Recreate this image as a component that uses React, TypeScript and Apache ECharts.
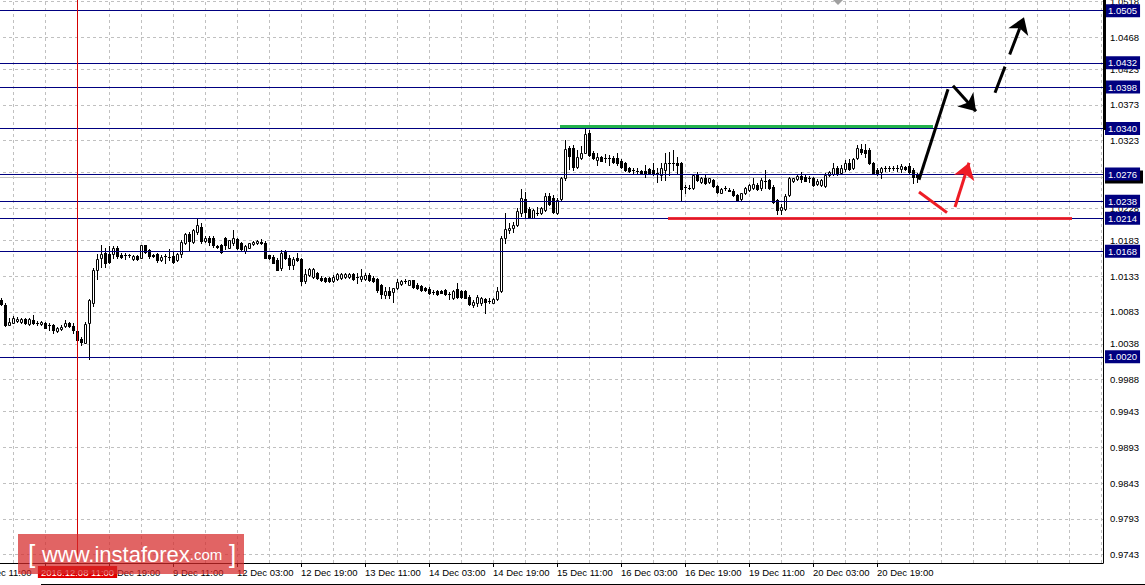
import React, { useEffect, useRef } from "react";
import * as echarts from "echarts";

// ---------- time axis ----------
const START_UTC = Date.UTC(2016, 11, 7, 11, 0); // first slot: 7 Dec 11:00 (H1 bars)
const SLOT_COUNT = 281; // hourly slots visible on the chart (incl. empty future area)
const FIRST_BAR = 5; // first candle slot (7 Dec 16:00)
const MONTHS = ["Jan", "Feb", "Mar", "Apr", "May", "Jun", "Jul", "Aug", "Sep", "Oct", "Nov", "Dec"];

// ---------- OHLC (H1) ----------
const openP = [
  1.0099, 1.0093, 1.0065, 1.0068, 1.0070, 1.0069, 1.0073, 1.0066, 1.0072, 1.0068,
  1.0066, 1.0067, 1.0064, 1.0065, 1.0056, 1.0059, 1.0063, 1.0067, 1.0063, 1.0056,
  1.0045, 1.0040, 1.0067, 1.0096, 1.0142, 1.0159, 1.0165, 1.0164, 1.0164, 1.0172,
  1.0163, 1.0162, 1.0162, 1.0157, 1.0161, 1.0159, 1.0176, 1.0169, 1.0163, 1.0164,
  1.0156, 1.0161, 1.0160, 1.0161, 1.0155, 1.0164, 1.0180, 1.0192, 1.0181, 1.0195,
  1.0202, 1.0182, 1.0187, 1.0187, 1.0175, 1.0176, 1.0187, 1.0173, 1.0179, 1.0185,
  1.0179, 1.0168, 1.0173, 1.0178, 1.0179, 1.0181, 1.0180, 1.0162, 1.0160, 1.0156,
  1.0144, 1.0167, 1.0159, 1.0149, 1.0159, 1.0157, 1.0126, 1.0134, 1.0132, 1.0137,
  1.0131, 1.0131, 1.0131, 1.0126, 1.0129, 1.0130, 1.0132, 1.0132, 1.0136, 1.0132,
  1.0129, 1.0129, 1.0135, 1.0131, 1.0129, 1.0121, 1.0107, 1.0112, 1.0111, 1.0116,
  1.0122, 1.0126, 1.0121, 1.0127, 1.0121, 1.0119, 1.0117, 1.0115, 1.0111, 1.0112,
  1.0112, 1.0114, 1.0108, 1.0102, 1.0115, 1.0112, 1.0112, 1.0104, 1.0093, 1.0095,
  1.0095, 1.0101, 1.0098, 1.0096, 1.0101, 1.0112, 1.0186, 1.0198, 1.0200, 1.0205,
  1.0222, 1.0241, 1.0227, 1.0215, 1.0222, 1.0221, 1.0226, 1.0245, 1.0243, 1.0221,
  1.0241, 1.0270, 1.0313, 1.0313, 1.0286, 1.0298, 1.0306, 1.0334, 1.0306, 1.0296,
  1.0300, 1.0299, 1.0298, 1.0299, 1.0298, 1.0295, 1.0291, 1.0284, 1.0282, 1.0281,
  1.0281, 1.0280, 1.0283, 1.0282, 1.0277, 1.0275, 1.0282, 1.0292, 1.0292, 1.0292,
  1.0291, 1.0258, 1.0257, 1.0256, 1.0276, 1.0265, 1.0270, 1.0265, 1.0268, 1.0259,
  1.0250, 1.0256, 1.0254, 1.0253, 1.0247, 1.0241, 1.0249, 1.0254, 1.0256, 1.0261,
  1.0256, 1.0267, 1.0268, 1.0258, 1.0240, 1.0226, 1.0227, 1.0247, 1.0266, 1.0269,
  1.0274, 1.0272, 1.0270, 1.0270, 1.0262, 1.0261, 1.0260, 1.0275, 1.0276, 1.0284,
  1.0277, 1.0283, 1.0291, 1.0284, 1.0298, 1.0311, 1.0310, 1.0310, 1.0291, 1.0282,
  1.0279, 1.0284, 1.0284, 1.0285, 1.0284, 1.0283, 1.0286, 1.0287, 1.0282, 1.0275,
];
const closeP = [
  1.0094, 1.0065, 1.0069, 1.0074, 1.0073, 1.0073, 1.0068, 1.0073, 1.0067, 1.0068,
  1.0069, 1.0061, 1.0064, 1.0058, 1.0060, 1.0062, 1.0068, 1.0063, 1.0057, 1.0043,
  1.0041, 1.0066, 1.0100, 1.0142, 1.0157, 1.0164, 1.0151, 1.0153, 1.0172, 1.0161,
  1.0160, 1.0162, 1.0162, 1.0161, 1.0157, 1.0176, 1.0167, 1.0161, 1.0161, 1.0156,
  1.0160, 1.0161, 1.0160, 1.0153, 1.0164, 1.0181, 1.0192, 1.0182, 1.0198, 1.0204,
  1.0182, 1.0187, 1.0181, 1.0176, 1.0174, 1.0167, 1.0177, 1.0183, 1.0187, 1.0172,
  1.0171, 1.0175, 1.0179, 1.0181, 1.0182, 1.0179, 1.0159, 1.0158, 1.0152, 1.0142,
  1.0166, 1.0159, 1.0149, 1.0157, 1.0155, 1.0126, 1.0136, 1.0143, 1.0143, 1.0131,
  1.0128, 1.0126, 1.0126, 1.0132, 1.0136, 1.0136, 1.0136, 1.0136, 1.0129, 1.0132,
  1.0133, 1.0135, 1.0128, 1.0126, 1.0113, 1.0108, 1.0112, 1.0107, 1.0116, 1.0125,
  1.0126, 1.0126, 1.0127, 1.0118, 1.0116, 1.0114, 1.0114, 1.0109, 1.0111, 1.0108,
  1.0110, 1.0108, 1.0108, 1.0112, 1.0104, 1.0104, 1.0103, 1.0094, 1.0097, 1.0104,
  1.0103, 1.0097, 1.0098, 1.0101, 1.0112, 1.0186, 1.0199, 1.0201, 1.0204, 1.0224,
  1.0242, 1.0223, 1.0216, 1.0226, 1.0222, 1.0228, 1.0245, 1.0234, 1.0223, 1.0240,
  1.0270, 1.0311, 1.0301, 1.0286, 1.0300, 1.0306, 1.0332, 1.0303, 1.0298, 1.0300,
  1.0295, 1.0299, 1.0298, 1.0293, 1.0291, 1.0286, 1.0282, 1.0280, 1.0282, 1.0281,
  1.0277, 1.0277, 1.0277, 1.0276, 1.0277, 1.0284, 1.0291, 1.0292, 1.0292, 1.0289,
  1.0255, 1.0258, 1.0257, 1.0275, 1.0268, 1.0270, 1.0263, 1.0270, 1.0259, 1.0251,
  1.0255, 1.0256, 1.0253, 1.0247, 1.0240, 1.0249, 1.0256, 1.0261, 1.0262, 1.0255,
  1.0268, 1.0267, 1.0256, 1.0237, 1.0226, 1.0230, 1.0245, 1.0270, 1.0270, 1.0274,
  1.0269, 1.0267, 1.0270, 1.0261, 1.0267, 1.0268, 1.0275, 1.0279, 1.0284, 1.0276,
  1.0284, 1.0291, 1.0283, 1.0297, 1.0313, 1.0307, 1.0305, 1.0291, 1.0278, 1.0277,
  1.0284, 1.0284, 1.0284, 1.0284, 1.0285, 1.0287, 1.0283, 1.0279, 1.0272, 1.0272,
];
const lowP = [
  1.0093, 1.0063, 1.0064, 1.0067, 1.0069, 1.0067, 1.0066, 1.0065, 1.0066, 1.0065,
  1.0065, 1.0060, 1.0058, 1.0054, 1.0055, 1.0058, 1.0062, 1.0062, 1.0054, 1.0042,
  1.0037, 1.0039, 1.0017, 1.0091, 1.0129, 1.0146, 1.0146, 1.0151, 1.0158, 1.0159,
  1.0159, 1.0157, 1.0160, 1.0156, 1.0155, 1.0158, 1.0166, 1.0159, 1.0160, 1.0153,
  1.0154, 1.0152, 1.0156, 1.0151, 1.0154, 1.0160, 1.0178, 1.0170, 1.0180, 1.0192,
  1.0180, 1.0181, 1.0176, 1.0174, 1.0173, 1.0166, 1.0171, 1.0172, 1.0177, 1.0171,
  1.0170, 1.0165, 1.0172, 1.0177, 1.0178, 1.0178, 1.0158, 1.0157, 1.0151, 1.0141,
  1.0142, 1.0157, 1.0143, 1.0143, 1.0154, 1.0121, 1.0123, 1.0133, 1.0131, 1.0129,
  1.0126, 1.0125, 1.0125, 1.0125, 1.0128, 1.0129, 1.0131, 1.0131, 1.0128, 1.0123,
  1.0126, 1.0128, 1.0126, 1.0125, 1.0111, 1.0103, 1.0103, 1.0102, 1.0097, 1.0115,
  1.0120, 1.0123, 1.0120, 1.0117, 1.0115, 1.0112, 1.0112, 1.0108, 1.0108, 1.0107,
  1.0109, 1.0107, 1.0101, 1.0101, 1.0102, 1.0103, 1.0102, 1.0093, 1.0090, 1.0091,
  1.0093, 1.0081, 1.0095, 1.0095, 1.0100, 1.0111, 1.0180, 1.0193, 1.0195, 1.0203,
  1.0217, 1.0216, 1.0215, 1.0214, 1.0219, 1.0220, 1.0224, 1.0233, 1.0221, 1.0220,
  1.0240, 1.0268, 1.0283, 1.0282, 1.0284, 1.0297, 1.0305, 1.0302, 1.0297, 1.0289,
  1.0294, 1.0293, 1.0289, 1.0292, 1.0289, 1.0285, 1.0280, 1.0279, 1.0277, 1.0278,
  1.0276, 1.0272, 1.0276, 1.0275, 1.0265, 1.0268, 1.0268, 1.0275, 1.0282, 1.0277,
  1.0239, 1.0249, 1.0255, 1.0255, 1.0266, 1.0264, 1.0262, 1.0264, 1.0258, 1.0250,
  1.0249, 1.0254, 1.0252, 1.0246, 1.0239, 1.0239, 1.0248, 1.0253, 1.0255, 1.0254,
  1.0254, 1.0256, 1.0255, 1.0236, 1.0220, 1.0220, 1.0226, 1.0245, 1.0265, 1.0268,
  1.0265, 1.0266, 1.0265, 1.0259, 1.0261, 1.0259, 1.0258, 1.0273, 1.0275, 1.0275,
  1.0276, 1.0281, 1.0282, 1.0283, 1.0297, 1.0304, 1.0300, 1.0290, 1.0277, 1.0275,
  1.0270, 1.0281, 1.0280, 1.0282, 1.0280, 1.0279, 1.0282, 1.0277, 1.0264, 1.0265,
];
const highP = [
  1.0103, 1.0095, 1.0074, 1.0077, 1.0076, 1.0075, 1.0074, 1.0074, 1.0079, 1.0070,
  1.0070, 1.0069, 1.0067, 1.0066, 1.0062, 1.0065, 1.0071, 1.0069, 1.0067, 1.0058,
  1.0048, 1.0069, 1.0101, 1.0144, 1.0164, 1.0177, 1.0172, 1.0175, 1.0175, 1.0175,
  1.0165, 1.0165, 1.0164, 1.0163, 1.0163, 1.0177, 1.0177, 1.0171, 1.0164, 1.0165,
  1.0162, 1.0164, 1.0171, 1.0167, 1.0165, 1.0184, 1.0194, 1.0195, 1.0199, 1.0213,
  1.0207, 1.0189, 1.0189, 1.0189, 1.0177, 1.0178, 1.0188, 1.0184, 1.0197, 1.0187,
  1.0181, 1.0176, 1.0180, 1.0182, 1.0183, 1.0185, 1.0182, 1.0163, 1.0163, 1.0158,
  1.0170, 1.0169, 1.0163, 1.0160, 1.0166, 1.0158, 1.0143, 1.0144, 1.0144, 1.0139,
  1.0133, 1.0132, 1.0132, 1.0134, 1.0137, 1.0137, 1.0137, 1.0137, 1.0137, 1.0137,
  1.0143, 1.0137, 1.0137, 1.0133, 1.0130, 1.0122, 1.0118, 1.0118, 1.0117, 1.0129,
  1.0128, 1.0129, 1.0128, 1.0128, 1.0123, 1.0121, 1.0118, 1.0118, 1.0113, 1.0114,
  1.0114, 1.0115, 1.0111, 1.0114, 1.0123, 1.0114, 1.0114, 1.0107, 1.0100, 1.0107,
  1.0104, 1.0102, 1.0102, 1.0102, 1.0118, 1.0189, 1.0221, 1.0207, 1.0209, 1.0228,
  1.0255, 1.0251, 1.0230, 1.0227, 1.0230, 1.0230, 1.0249, 1.0250, 1.0247, 1.0242,
  1.0272, 1.0324, 1.0315, 1.0317, 1.0310, 1.0315, 1.0340, 1.0338, 1.0308, 1.0306,
  1.0302, 1.0304, 1.0303, 1.0302, 1.0306, 1.0297, 1.0293, 1.0286, 1.0285, 1.0285,
  1.0282, 1.0289, 1.0284, 1.0291, 1.0285, 1.0291, 1.0306, 1.0307, 1.0310, 1.0300,
  1.0293, 1.0261, 1.0261, 1.0276, 1.0279, 1.0272, 1.0275, 1.0271, 1.0269, 1.0261,
  1.0257, 1.0259, 1.0257, 1.0255, 1.0248, 1.0250, 1.0258, 1.0262, 1.0270, 1.0264,
  1.0270, 1.0282, 1.0269, 1.0261, 1.0241, 1.0234, 1.0248, 1.0272, 1.0271, 1.0275,
  1.0279, 1.0275, 1.0273, 1.0272, 1.0269, 1.0269, 1.0278, 1.0280, 1.0292, 1.0287,
  1.0289, 1.0296, 1.0297, 1.0299, 1.0317, 1.0318, 1.0318, 1.0313, 1.0293, 1.0284,
  1.0286, 1.0287, 1.0287, 1.0287, 1.0289, 1.0290, 1.0288, 1.0292, 1.0284, 1.0278,
];

// ---------- price scale ----------
const Y_MIN = 0.9731;
const Y_MAX = 1.052;
const yTicks = [
  1.0518, 1.0468, 1.0423, 1.0373, 1.0323, 1.0278, 1.0228, 1.0183, 1.0133,
  1.0083, 1.0038, 0.9988, 0.9943, 0.9893, 0.9843, 0.9793, 0.9743,
];
const levels = [1.0505, 1.0432, 1.0398, 1.034, 1.0276, 1.0238, 1.0214, 1.0168, 1.002];
const bidPrice = 1.0272;
const crosshairBar = 24;
const crosshairLabel = "2016.12.08 11:00";

// ---------- drawn annotations: [bar slot, price] ----------
const greenLine = [[144.75, 1.0343], [238, 1.0343]];
const redLevelLine = [[171.75, 1.0214], [272.75, 1.0214]];
const blackTrend = [[234.5, 1.0268], [241.75, 1.0395]];
const redStroke = [[234.5, 1.0251], [241.5, 1.0222]];
const blackArrow = [[243, 1.04], [248.75, 1.0364]];
const dashedArrow = [[253.5, 1.039], [260.75, 1.0496]];
const redArrow = [[243.5, 1.023], [247, 1.0292]];

const FONT = "'Liberation Sans', Arial, sans-serif";
const FS = 9.5;

function buildTimes(): string[] {
  const out: string[] = [];
  let t = START_UTC;
  while (out.length < SLOT_COUNT) {
    const d = new Date(t);
    const wd = d.getUTCDay();
    if (wd !== 0 && wd !== 6) {
      out.push(`${d.getUTCDate()} ${MONTHS[d.getUTCMonth()]} ${String(d.getUTCHours()).padStart(2, "0")}:00`);
    }
    t += 3600000;
  }
  return out;
}

function buildOption() {
  const times = buildTimes();
  const lastBar = FIRST_BAR + openP.length - 1;
  // the label under the crosshair time box is hidden, as in the terminal
  const coveredLabel = crosshairBar - 8;
  const showTick = (i: number) => i % 16 === 0 && i <= lastBar;
  const showLabel = (i: number) => showTick(i) && i !== coveredLabel;
  // a price-scale label fully hidden behind a level's box is not drawn
  const hiddenByLevel = (v: number) => levels.some((l) => Math.abs(l - v) < 0.0004);
  const candleData = openP.map((o, i) => [FIRST_BAR + i, o, closeP[i], lowP[i], highP[i]]);
  const closeLine = candleData.map((d) => [d[0], d[2]]);
  const vGrid: number[] = [];
  for (let k = 8; k < SLOT_COUNT; k += 8) vGrid.push(k + 0.125);

  const gridStyle = { color: "#c0c0c0", width: 1, type: [3, 3] as any };

  const helper = (name: string, z: number, markLine: any) => ({
    type: "line",
    name,
    xAxisIndex: 1,
    yAxisIndex: 0,
    data: closeLine,
    symbol: "none",
    silent: true,
    z,
    lineStyle: { opacity: 0, width: 0 },
    markLine: { silent: true, symbol: ["none", "none"], precision: 4, animation: false, z, ...markLine },
  });

  return {
    animation: false,
    backgroundColor: "#ffffff",
    grid: { left: -21, right: 42, top: 0, bottom: 22, containLabel: false, outerBoundsMode: "none" },
    xAxis: [
      {
        type: "category",
        data: times,
        boundaryGap: true,
        position: "bottom",
        axisLine: { show: true, lineStyle: { color: "#000", width: 1 } },
        axisTick: {
          show: true,
          alignWithLabel: true,
          interval: (i: number) => showTick(i),
          length: 4,
          lineStyle: { color: "#000" },
        },
        axisLabel: {
          interval: (i: number) => showLabel(i),
          align: "left",
          margin: 4,
          fontSize: FS,
          color: "#000",
          fontFamily: FONT,
        },
        splitLine: { show: false },
      },
      { type: "value", min: -0.5, max: SLOT_COUNT - 0.5, show: false },
    ],
    yAxis: {
      type: "value",
      position: "right",
      min: Y_MIN,
      max: Y_MAX,
      axisLine: { show: true, onZero: false, lineStyle: { color: "#000", width: 1 } },
      axisTick: { show: false },
      axisLabel: { show: false },
      splitLine: { show: false },
    },
    series: [
      helper("grid", 1, {
        data: [
          ...yTicks.map((v) => ({
            yAxis: v,
            lineStyle: gridStyle,
            label: {
              show: !hiddenByLevel(v),
              position: "end",
              distance: 7,
              formatter: v.toFixed(4),
              color: "#000",
              fontSize: FS,
              fontFamily: FONT,
            },
          })),
          ...vGrid.map((v) => ({ xAxis: v, lineStyle: gridStyle, label: { show: false } })),
        ],
      }),
      helper("bid", 2, {
        data: [
          {
            yAxis: bidPrice,
            lineStyle: { color: "#c0c0c0", width: 1, type: "solid" },
            label: {
              show: true,
              position: "end",
              distance: 2,
              formatter: " ",
              width: 32,
              height: 10,
              backgroundColor: "#000",
              padding: [2, 3, 1, 3],
              fontSize: FS,
              fontFamily: FONT,
            },
          },
        ],
      }),
      {
        type: "custom",
        name: "candles",
        xAxisIndex: 1,
        yAxisIndex: 0,
        z: 3,
        silent: true,
        data: candleData,
        encode: { x: 0, y: [1, 2, 3, 4] },
        renderItem: (_params: any, api: any) => {
          const k = api.value(0);
          const o = api.value(1);
          const c = api.value(2);
          const l = api.value(3);
          const h = api.value(4);
          const pO = api.coord([k, o]);
          const pC = api.coord([k, c]);
          const pL = api.coord([k, l]);
          const pH = api.coord([k, h]);
          const cx = Math.floor(pO[0]);
          const yO = Math.round(pO[1]);
          const yC = Math.round(pC[1]);
          const yH = Math.round(pH[1]);
          const yL = Math.round(pL[1]);
          const top = Math.min(yO, yC);
          const bot = Math.max(yO, yC);
          const children: any[] = [
            {
              type: "line",
              shape: { x1: cx + 0.5, y1: yH, x2: cx + 0.5, y2: yL + 1 },
              style: { stroke: "#000", lineWidth: 1 },
            },
          ];
          if (bot - top < 1) {
            children.push({
              type: "line",
              shape: { x1: cx - 1, y1: top + 0.5, x2: cx + 2, y2: top + 0.5 },
              style: { stroke: "#000", lineWidth: 1 },
            });
          } else if (c > o) {
            children.push({
              type: "rect",
              shape: { x: cx - 0.5, y: top + 0.5, width: 2, height: bot - top },
              style: { fill: "#fff", stroke: "#000", lineWidth: 1 },
            });
          } else {
            children.push({
              type: "rect",
              shape: { x: cx - 1, y: top, width: 3, height: bot - top + 1 },
              style: { fill: "#000" },
            });
          }
          return { type: "group", children };
        },
      },
      helper("levels", 4, {
        data: levels.map((v) => ({
          yAxis: v,
          lineStyle: { color: "#000080", width: 1, type: "solid" },
          label: {
            show: true,
            position: "end",
            distance: 2,
            formatter: v.toFixed(4),
            color: "#fff",
            backgroundColor: "#000080",
            padding: [2, 3, 1, 3],
            fontSize: FS,
            fontFamily: FONT,
          },
        })),
      }),
      helper("crosshair", 6, {
        data: [
          {
            xAxis: crosshairBar + 0.125,
            lineStyle: { color: "#d40000", width: 1, type: "solid" },
            label: {
              show: true,
              position: "start",
              distance: 3,
              formatter: crosshairLabel,
              color: "#fff",
              backgroundColor: "#e00000",
              padding: [1, 3, 1, 3],
              fontSize: FS,
              fontFamily: FONT,
            },
          },
        ],
      }),
      {
        type: "lines",
        name: "drawn lines",
        coordinateSystem: "cartesian2d",
        xAxisIndex: 1,
        yAxisIndex: 0,
        z: 10,
        silent: true,
        symbol: ["none", "none"],
        data: [
          { coords: greenLine, lineStyle: { color: "#22b14c", width: 3, opacity: 1, type: "solid" } },
          { coords: redLevelLine, lineStyle: { color: "#ee1c25", width: 3, opacity: 0.9, type: "solid" } },
          { coords: blackTrend, lineStyle: { color: "#000", width: 3, opacity: 1, type: "solid" } },
          { coords: redStroke, lineStyle: { color: "#ee1c25", width: 3, opacity: 1, type: "solid" } },
        ],
      },
      {
        type: "lines",
        name: "drawn arrows",
        coordinateSystem: "cartesian2d",
        xAxisIndex: 1,
        yAxisIndex: 0,
        z: 10,
        silent: true,
        symbol: ["none", "arrow"],
        symbolSize: 16,
        data: [
          { coords: blackArrow, lineStyle: { color: "#000", width: 3, opacity: 1, type: "solid" } },
          { coords: dashedArrow, lineStyle: { color: "#000", width: 3, opacity: 1, type: [28, 13] } },
          { coords: redArrow, lineStyle: { color: "#ee1c25", width: 3, opacity: 1, type: "solid" } },
        ],
      },
    ],
    graphic: [
      { type: "rect", z: 50, shape: { x: 1103, y: 0, width: 3, height: 130 }, style: { fill: "#000" } },
      { type: "polygon", z: 50, shape: { points: [[833, 0], [843, 0], [838, 5]] }, style: { fill: "#a0a0a0" } },
      { type: "line", z: 50, shape: { x1: 41, y1: 584.5, x2: 1145, y2: 584.5 }, style: { stroke: "#000", lineWidth: 1 } },
      {
        type: "rect",
        z: 100,
        shape: { x: 18, y: 534, width: 226, height: 40 },
        style: { fill: "rgba(214,40,40,0.72)" },
      },
      {
        type: "text",
        z: 101,
        x: 28,
        y: 554,
        style: {
          text: "{b|[}{s| }{w|www.instaforex}{c|.com}{s| }{b|]}",
          align: "left",
          verticalAlign: "middle",
          fill: "#fff",
          rich: {
            b: { fontSize: 26, fontFamily: FONT, fill: "#fff", color: "#fff" },
            s: { fontSize: 24, fontFamily: FONT, fill: "#fff", color: "#fff" },
            w: { fontSize: 22, fontFamily: FONT, fill: "#fff", color: "#fff" },
            c: { fontSize: 15, fontFamily: FONT, fill: "#fff", color: "#fff" },
          },
        },
      },
    ],
  };
}

export default function App() {
  const ref = useRef<HTMLDivElement>(null);
  useEffect(() => {
    if (!ref.current) return;
    const chart = echarts.init(ref.current, undefined, { renderer: "svg" });
    chart.setOption(buildOption() as any);
    return () => chart.dispose();
  }, []);
  return (
    <div
      ref={ref}
      style={{ position: "fixed", left: 0, top: 0, width: 1145, height: 585, background: "#fff" }}
    />
  );
}
